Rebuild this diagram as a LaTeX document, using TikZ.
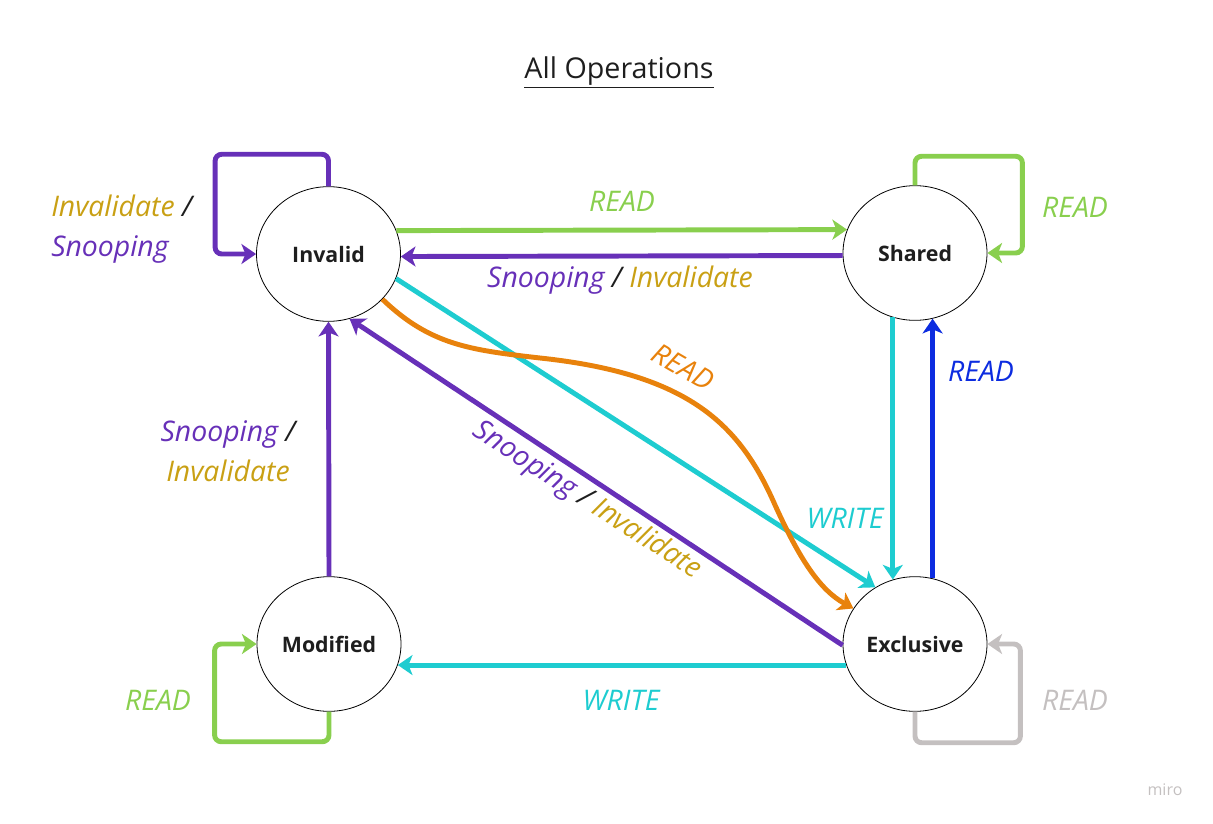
\documentclass[tikz,border=0pt]{standalone}
\usepackage{fontspec}
\setmainfont{Open Sans}
\usetikzlibrary{shapes.geometric,arrows.meta,calc}
\definecolor{snoopc}{RGB}{103,48,184}
\definecolor{readc}{RGB}{137,207,78}
\definecolor{invalc}{RGB}{201,160,20}
\definecolor{writec}{RGB}{30,204,208}
\definecolor{orangec}{RGB}{232,130,12}
\definecolor{bluec}{RGB}{12,44,224}
\definecolor{grayc}{RGB}{196,192,192}
\definecolor{textc}{RGB}{30,30,30}
\tikzset{
  state/.style={ellipse,draw=black,line width=0.6pt,minimum width=108pt,
    minimum height=101pt,inner sep=0pt,font=\fontsize{16}{19}\selectfont\bfseries,text=textc},
  flow/.style={-{Stealth[length=11pt,width=15pt,inset=3pt]},line width=3.7pt},
  selfloop/.style={flow,rounded corners=5pt},
  lbl/.style={font=\fontsize{21.3}{30}\selectfont\itshape,inner sep=0pt}
}

\begin{document}
\begin{tikzpicture}[x=0.75pt,y=-0.75pt]
  \useasboundingbox (0,0) rectangle (1213,824);
  \node[font=\fontsize{21.5}{24}\selectfont,text=textc] (title) at (619,72) {\underline{All Operations}};

  % states
  \node[state] (inv) at (328.5,254) {Invalid};
  \node[state] (sha) at (915,253) {Shared};
  \node[state] (mod) at (329,644) {Modified};
  \node[state] (exc) at (915,644) {Exclusive};

  % self loops
  \draw[selfloop,snoopc] (inv.north) -- ++(0,-32) -| ($(inv.west)+(-41,0)$) -- (inv.west);
  \draw[selfloop,readc] (sha.north) -- ++(0,-29) -| ($(sha.east)+(35,0)$) -- (sha.east);
  \draw[selfloop,readc] (mod.south) -- ++(0,30) -| ($(mod.west)+(-42,0)$) -- (mod.west);
  \draw[selfloop,grayc] (exc.south) -- ++(0,31) -| ($(exc.east)+(33,0)$) -- (exc.east);

  % transitions
  \draw[flow,readc] (inv.19) -- (sha.161);
  \draw[flow,snoopc] (sha.182) -- (inv.-2);
  \draw[flow,writec] (inv.-20) -- (exc.125);
  \draw[flow,orangec] (inv.-40) .. controls (430,345) and (470,350) .. (540,358)
    .. controls (690,374) and (740,425) .. (775,505)
    .. controls (800,560) and (820,590) .. (exc.150);
  \draw[flow,snoopc] (exc.181) -- (inv.-72);
  \draw[flow,snoopc] (mod.north) -- (inv.south);
  \draw[flow,writec] (sha.-109) -- (exc.109);
  \draw[flow,bluec] (exc.75) -- (sha.-75);
  \draw[flow,writec] (exc.197) -- (mod.-17);

  % labels
  \node[lbl,text=readc] (rd1) at (622,201) {READ};
  \node[lbl] (si1) at (620,280) {\textcolor{snoopc}{Snooping} \textcolor{textc}{/} \textcolor{invalc}{Invalidate}};
  \node[lbl,anchor=west,align=left] (is1) at (51,229) {\textcolor{invalc}{Invalidate} \textcolor{textc}{/}\\\textcolor{snoopc}{Snooping}};
  \node[lbl,text=readc] (rd2) at (1075,207) {READ};
  \node[lbl,text=bluec] (rd3) at (981,371) {READ};
  \node[lbl,text=orangec,rotate=-30] (rd4) at (683,367) {READ};
  \node[lbl,text=writec] (wr1) at (845,518) {WRITE};
  \node[lbl,align=center] (si2) at (228,451) {\textcolor{snoopc}{Snooping} \textcolor{textc}{/}\\\textcolor{invalc}{Invalidate}};
  \node[lbl,rotate=-33] (si3) at (587,501) {\textcolor{snoopc}{Snooping} \textcolor{textc}{/} \textcolor{invalc}{Invalidate}};
  \node[lbl,text=readc] (rd5) at (158,700) {READ};
  \node[lbl,text=writec] (wr2) at (621,700) {WRITE};
  \node[lbl,text=grayc] (rd6) at (1075,700) {READ};
  \node[font=\fontsize{12}{14}\selectfont,text=grayc] (miro) at (1165,790) {miro};
\end{tikzpicture}
\end{document}
